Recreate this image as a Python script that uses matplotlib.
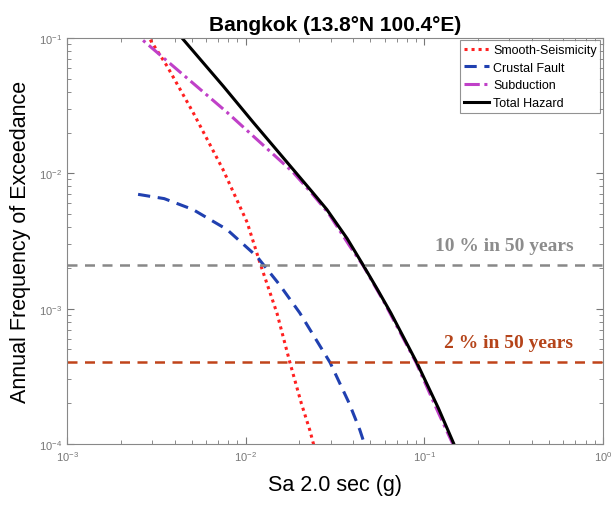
import matplotlib
matplotlib.use("Agg")
import matplotlib.pyplot as plt

plt.rcParams['font.family'] = ['Liberation Sans', 'DejaVu Sans']

# Hazard curves (Sa in g, annual frequency)
smooth_x = [0.0025, 0.00288, 0.00363, 0.00507, 0.00746, 0.0102, 0.0120, 0.0150, 0.0177, 0.0205, 0.0229, 0.0245]
smooth_y = [0.13, 0.10, 0.062, 0.0283, 0.0107, 0.00434, 0.0022, 0.00092, 0.0004, 0.0002, 0.000126, 0.00009]

crustal_x = [0.0025, 0.0035, 0.00507, 0.00785, 0.01156, 0.0155, 0.0201, 0.0297, 0.0380, 0.0436, 0.0475]
crustal_y = [0.00699, 0.0065, 0.0054, 0.00385, 0.00243, 0.00150, 0.00093, 0.0004, 0.00020, 0.000127, 0.00009]

subd_x = [0.0022, 0.00257, 0.00785, 0.0184, 0.0235, 0.0290, 0.0384, 0.0453, 0.060, 0.0900, 0.120, 0.150]
subd_y = [0.12, 0.10, 0.0283, 0.0102, 0.0071, 0.0051, 0.00288, 0.0021, 0.0011, 0.0004, 0.00017, 0.00009]

total_x = [0.0040, 0.0044, 0.0075, 0.011, 0.018, 0.0235, 0.0285, 0.037, 0.0453, 0.055, 0.065, 0.091, 0.120, 0.1466, 0.155]
total_y = [0.12, 0.10, 0.044, 0.0239, 0.0111, 0.00733, 0.0054, 0.0033, 0.00212, 0.00137, 0.00093, 0.000398, 0.000184, 0.0001, 0.00008]

lvl_10 = 0.0021
lvl_2 = 0.000404

fig = plt.figure(figsize=(6.12, 5.06), dpi=100)
ax = fig.add_axes([0.1095, 0.1206, 0.8755, 0.8024])

ax.loglog(smooth_x, smooth_y, color="#FF2020", linestyle=(0, (1, 1.3)), linewidth=2.2, label="Smooth-Seismicity")
ax.loglog(crustal_x, crustal_y, color="#2040B0", linestyle=(0, (4, 2.5)), linewidth=2.2, label="Crustal Fault")
ax.loglog(subd_x, subd_y, color="#C040C8", linestyle=(0, (5, 1.5, 1, 1.5)), linewidth=2.2, label="Subduction")
ax.loglog(total_x, total_y, color="black", linewidth=2.2, label="Total Hazard")

ax.axhline(lvl_10, color="#888888", linestyle=(0, (4, 3)), linewidth=1.8)
ax.axhline(lvl_2, color="#C0441A", linestyle=(0, (4, 3)), linewidth=1.8)
ax.text(0.945, lvl_10 * 1.2, "10 % in 50 years", color="#8C8C8C", fontsize=14, fontweight="bold",
        family=["Liberation Serif", "DejaVu Serif"], ha="right", va="bottom", transform=ax.get_yaxis_transform())
ax.text(0.945, lvl_2 * 1.2, "2 % in 50 years", color="#B5441A", fontsize=14, fontweight="bold",
        family=["Liberation Serif", "DejaVu Serif"], ha="right", va="bottom", transform=ax.get_yaxis_transform())

ax.set_xlim(1e-3, 1)
ax.set_ylim(1e-4, 1e-1)
ax.set_title("Bangkok (13.8°N 100.4°E)", fontsize=15, fontweight="bold", pad=6)
ax.set_xlabel("Sa 2.0 sec (g)", fontsize=15.5, labelpad=8)
ax.set_ylabel("Annual Frequency of Exceedance", fontsize=15.5, labelpad=6)

ax.tick_params(which="both", direction="in", top=True, right=True, colors="#777777", labelsize=8)
ax.tick_params(which="major", length=5)
ax.tick_params(which="minor", length=3)
for s in ax.spines.values():
    s.set_color("#888888")

leg = ax.legend(loc="upper right", fontsize=9, frameon=True, fancybox=False, borderpad=0.3,
                labelspacing=0.45, handlelength=2.0, handletextpad=0.3, borderaxespad=0.2)
leg.get_frame().set_edgecolor("#777777")
leg.get_frame().set_linewidth(0.8)

fig.savefig("out.png", dpi=100)
